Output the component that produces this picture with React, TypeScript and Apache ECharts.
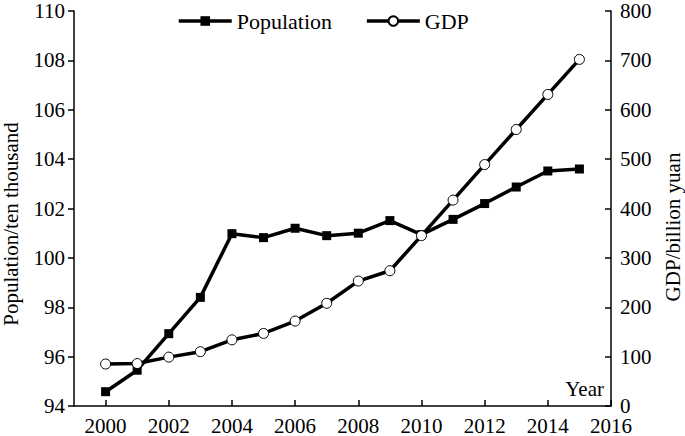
import React, { useEffect, useRef } from "react";
import * as echarts from "echarts";

const years = [2000, 2001, 2002, 2003, 2004, 2005, 2006, 2007, 2008, 2009, 2010, 2011, 2012, 2013, 2014, 2015];
const population = [94.58, 95.45, 96.93, 98.4, 100.98, 100.82, 101.2, 100.9, 101.0, 101.51, 100.94, 101.56, 102.2, 102.87, 103.52, 103.6];
const gdp = [85, 86, 99, 110, 134, 147, 172, 208, 253, 274, 345, 417, 489, 560, 631, 702];
const xTicks = [2000, 2002, 2004, 2006, 2008, 2010, 2012, 2014, 2016];

const FONT = "'Liberation Serif', 'Times New Roman', serif";

export default function App() {
  const ref = useRef<HTMLDivElement>(null);
  useEffect(() => {
    if (!ref.current) return;
    const chart = echarts.init(ref.current, null, { renderer: "svg" });
    const popData = years.map((y, i) => [y, population[i]]);
    const gdpData = years.map((y, i) => [y, gdp[i]]);
    chart.setOption({
      animation: false,
      backgroundColor: "#fff",
      textStyle: { fontFamily: FONT, color: "#000" },
      grid: { left: 74, right: 74, top: 11, bottom: 28, containLabel: false },
      legend: {
        left: 177,
        top: 10,
        padding: 0,
        itemWidth: 53,
        itemHeight: 12,
        itemGap: 33,
        lineStyle: { width: 3.5 },
        textStyle: { fontFamily: FONT, fontSize: 22, color: "#000" },
        data: ["Population", "GDP"],
      },
      xAxis: {
        type: "value",
        min: 1999,
        max: 2016,
        axisLine: { lineStyle: { color: "#000", width: 1.5 } },
        axisTick: { inside: true, length: 6, lineStyle: { color: "#000", width: 1.5 }, customValues: xTicks },
        axisLabel: {
          customValues: xTicks,
          formatter: (v: number) => String(v),
          fontFamily: FONT,
          fontSize: 21,
          color: "#000",
          margin: 9,
        },
        splitLine: { show: false },
      },
      yAxis: [
        {
          type: "value",
          min: 94,
          max: 110,
          interval: 2,
          position: "left",
          axisLine: { show: true, lineStyle: { color: "#000", width: 1.5 } },
          axisTick: { show: true, inside: false, length: 6, lineStyle: { color: "#000", width: 1.5 } },
          axisLabel: { fontFamily: FONT, fontSize: 21, color: "#000", margin: 9 },
          splitLine: { show: false },
        },
        {
          type: "value",
          min: 0,
          max: 800,
          interval: 100,
          position: "right",
          axisLine: { show: true, lineStyle: { color: "#000", width: 1.5 } },
          axisTick: { show: true, inside: true, length: 6, lineStyle: { color: "#000", width: 1.5 } },
          axisLabel: { fontFamily: FONT, fontSize: 21, color: "#000", margin: 9 },
          splitLine: { show: false },
        },
      ],
      series: [
        {
          name: "Population",
          type: "line",
          yAxisIndex: 0,
          data: popData,
          symbol: "rect",
          symbolSize: 9,
          lineStyle: { color: "#000", width: 3.5 },
          itemStyle: { color: "#000", borderColor: "#000", borderWidth: 0 },
          z: 2,
        },
        {
          name: "GDP",
          type: "line",
          yAxisIndex: 1,
          data: gdpData,
          symbol: "circle",
          symbolSize: 10,
          showAllSymbol: true,
          lineStyle: { color: "#000", width: 3.5 },
          itemStyle: { color: "#fff", borderColor: "#000", borderWidth: 1 },
          z: 3,
        },
      ],
      graphic: [
        {
          type: "text",
          x: 11,
          y: 224,
          rotation: Math.PI / 2,
          style: {
            text: "Population/ten thousand",
            font: `21px ${FONT}`,
            fill: "#000",
            align: "center",
            verticalAlign: "middle",
          },
        },
        {
          type: "text",
          x: 673,
          y: 227,
          rotation: Math.PI / 2,
          style: {
            text: "GDP/billion yuan",
            font: `21px ${FONT}`,
            fill: "#000",
            align: "center",
            verticalAlign: "middle",
          },
        },
        {
          type: "text",
          x: 604,
          y: 389,
          style: {
            text: "Year",
            font: `21px ${FONT}`,
            fill: "#000",
            align: "right",
            verticalAlign: "middle",
          },
        },
      ],
    });
    return () => chart.dispose();
  }, []);
  return <div ref={ref} style={{ width: 685, height: 436, position: "fixed", left: 0, top: 0 }} />;
}
